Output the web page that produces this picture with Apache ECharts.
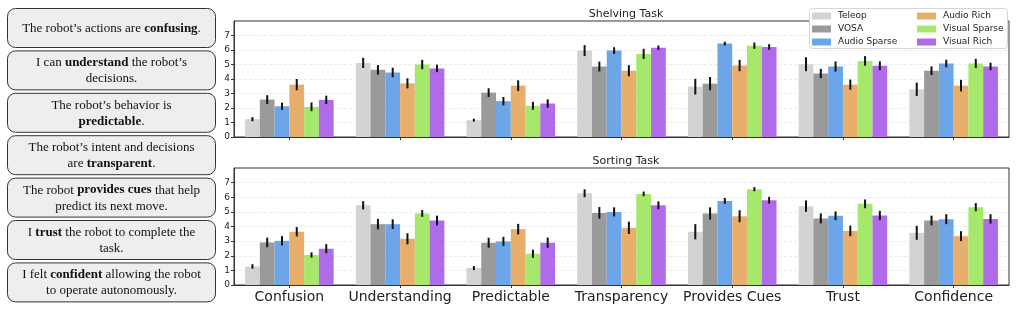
<!DOCTYPE html>
<html>
<head>
<meta charset="utf-8">
<script src="https://cdn.jsdelivr.net/npm/echarts@6/dist/echarts.min.js"></script>
<style>
  html, body { margin: 0; padding: 0; background: #fff; }
  #chart { width: 1017px; height: 312px; }
</style>
</head>
<body>
<div id="chart"></div>
<script>
// categories and conditions
const categories = ['Confusion', 'Understanding', 'Predictable', 'Transparency', 'Provides Cues', 'Trust', 'Confidence'];
const groups = ['Teleop', 'VOSA', 'Audio Sparse', 'Audio Rich', 'Visual Sparse', 'Visual Rich'];
const colors = ['#d3d3d3', '#9a9a9a', '#6ca6e8', '#e8ae6c', '#a5e86c', '#b06ce8'];

// shelving task: mean per condition (rows follow groups)
const shelvingMeans = [
  [1.23, 5.11, 1.16, 5.96, 3.47, 5.02, 3.29],
  [2.58, 4.63, 3.06, 4.86, 3.68, 4.38, 4.57],
  [2.12, 4.45, 2.47, 5.96, 6.44, 4.86, 5.07],
  [3.61, 3.70, 3.54, 4.57, 4.93, 3.61, 3.54],
  [2.08, 5.00, 2.15, 5.73, 6.30, 5.25, 5.07],
  [2.56, 4.73, 2.31, 6.16, 6.21, 4.91, 4.86]
];
const shelvingErrors = [
  [0.14, 0.35, 0.10, 0.38, 0.54, 0.48, 0.46],
  [0.30, 0.33, 0.30, 0.34, 0.46, 0.32, 0.30],
  [0.25, 0.33, 0.29, 0.23, 0.13, 0.35, 0.26],
  [0.39, 0.35, 0.37, 0.38, 0.39, 0.35, 0.40],
  [0.30, 0.32, 0.27, 0.35, 0.22, 0.33, 0.32],
  [0.29, 0.26, 0.29, 0.15, 0.19, 0.31, 0.26]
];

// sorting task
const sortingMeans = [
  [1.27, 5.45, 1.16, 6.27, 3.64, 5.39, 3.57],
  [2.91, 4.16, 2.89, 4.93, 4.89, 4.55, 4.41],
  [3.02, 4.16, 2.98, 5.00, 5.75, 4.73, 4.50],
  [3.64, 3.16, 3.82, 3.91, 4.70, 3.70, 3.34],
  [2.05, 4.89, 2.14, 6.23, 6.55, 5.55, 5.32],
  [2.48, 4.41, 2.89, 5.45, 5.80, 4.75, 4.52]
];
const sortingErrors = [
  [0.15, 0.28, 0.14, 0.27, 0.52, 0.39, 0.48],
  [0.33, 0.36, 0.34, 0.40, 0.42, 0.34, 0.33],
  [0.32, 0.33, 0.31, 0.31, 0.20, 0.30, 0.34],
  [0.32, 0.38, 0.36, 0.42, 0.41, 0.36, 0.34],
  [0.18, 0.23, 0.28, 0.16, 0.14, 0.30, 0.28],
  [0.31, 0.33, 0.35, 0.27, 0.23, 0.32, 0.32]
];

const yTicks = [0, 1, 2, 3, 4, 5, 6, 7];

// questionnaire statements shown on the left ({b|..} = bold)
const statements = [
  'The robot\u2019s actions are {b|confusing}.',
  'I can {b|understand} the robot\u2019s\ndecisions.',
  'The robot\u2019s behavior is\n{b|predictable}.',
  'The robot\u2019s intent and decisions\nare {b|transparent}.',
  'The robot {b|provides cues} that help\npredict its next move.',
  'I {b|trust} the robot to complete the\ntask.',
  'I felt {b|confident} allowing the robot\nto operate autonomously.'
];

const chart = echarts.init(document.getElementById('chart'), null, { renderer: 'canvas' });

const SANS = 'DejaVu Sans';
const SERIF = 'Liberation Serif';

function xAxisFor(gridIndex, showLabels) {
  return {
    type: 'category',
    gridIndex: gridIndex,
    data: categories,
    boundaryGap: true,
    axisLine: { lineStyle: { color: '#333', width: 1 } },
    axisTick: { show: true, alignWithLabel: true, interval: 0, length: 3, lineStyle: { color: '#333' } },
    axisLabel: { show: showLabels, interval: 0, color: '#222', fontSize: 14, fontFamily: SANS, margin: 5 },
    splitLine: { show: false }
  };
}

function yAxisFor(gridIndex) {
  return {
    type: 'value',
    gridIndex: gridIndex,
    min: 0,
    max: 8,
    interval: 1,
    axisLine: { show: true, lineStyle: { color: '#333', width: 1 } },
    axisTick: { show: true, length: 3, lineStyle: { color: '#333' }, customValues: yTicks },
    axisLabel: { color: '#222', fontSize: 9, fontFamily: SANS, margin: 4, customValues: yTicks },
    splitLine: { show: true, lineStyle: { color: '#e6e6e6', type: [3, 2], width: 0.8 } }
  };
}

function errorSeries(gridIdx, j, means, errs) {
  const data = categories.map((c, i) => [i, means[j][i] - errs[j][i], means[j][i] + errs[j][i]]);
  return {
    type: 'custom',
    xAxisIndex: gridIdx,
    yAxisIndex: gridIdx,
    z: 5,
    silent: true,
    data: data,
    renderItem: function (params, api) {
      const band = api.size([1, 0])[0];
      const bw = band * 0.8 / groups.length;
      const x = api.coord([api.value(0), 0])[0] + (j - (groups.length - 1) / 2) * bw;
      const y1 = api.coord([api.value(0), api.value(1)])[1];
      const y2 = api.coord([api.value(0), api.value(2)])[1];
      return {
        type: 'line',
        shape: { x1: x, y1: y1, x2: x, y2: y2 },
        style: { stroke: '#111', lineWidth: 2 }
      };
    }
  };
}

const series = [];
[shelvingMeans, sortingMeans].forEach((means, g) => {
  groups.forEach((name, j) => {
    series.push({
      name: name,
      type: 'bar',
      xAxisIndex: g,
      yAxisIndex: g,
      data: means[j],
      barGap: '0%',
      barCategoryGap: '20%',
      itemStyle: { color: colors[j] },
      emphasis: { disabled: true },
      animation: false
    });
  });
});
[[shelvingMeans, shelvingErrors], [sortingMeans, sortingErrors]].forEach((pair, g) => {
  groups.forEach((name, j) => {
    series.push(errorSeries(g, j, pair[0], pair[1]));
  });
});

// left statement boxes
const graphics = [];
const boxTop = 8, boxStep = 42.4, boxH = 39;
statements.forEach((s, i) => {
  const y = boxTop + i * boxStep;
  graphics.push({
    type: 'rect',
    shape: { x: 7.5, y: y + 0.5, width: 208, height: boxH, r: 8 },
    style: { fill: '#eeeeee', stroke: '#333', lineWidth: 1 }
  });
  graphics.push({
    type: 'text',
    x: 111.5,
    y: y + boxH / 2 + 1,
    style: {
      text: s,
      align: 'center',
      verticalAlign: 'middle',
      fontFamily: SERIF,
      fontSize: 13,
      lineHeight: 16,
      fill: '#111',
      rich: {
        b: { fontFamily: SERIF, fontSize: 13, fontWeight: 'bold', lineHeight: 16, fill: '#111' }
      }
    }
  });
});
// legend frame
graphics.push({
  type: 'rect',
  z: 3,
  shape: { x: 809.5, y: 8.5, width: 198, height: 40, r: 3 },
  style: { fill: '#fff', stroke: '#d6d6d6', lineWidth: 1 }
});

function legendFor(names, left) {
  return {
    data: names,
    orient: 'vertical',
    left: left,
    top: 10,
    padding: 0,
    itemWidth: 19,
    itemHeight: 7,
    itemGap: 1,
    icon: 'rect',
    z: 4,
    textStyle: { fontSize: 9, fontFamily: SANS, color: '#222', lineHeight: 12, padding: [0, 0, 0, 2] }
  };
}

const option = {
  animation: false,
  backgroundColor: '#fff',
  title: [
    { text: 'Shelving Task', left: 621, top: 4, textAlign: 'center',
      textStyle: { fontSize: 11, fontWeight: 'normal', fontFamily: SANS, color: '#222' } },
    { text: 'Sorting Task', left: 621, top: 151, textAlign: 'center',
      textStyle: { fontSize: 11, fontWeight: 'normal', fontFamily: SANS, color: '#222' } }
  ],
  legend: [
    legendFor(groups.slice(0, 3), 812),
    legendFor(groups.slice(3), 917)
  ],
  grid: [
    { left: 234, right: 8, top: 21, height: 116, show: true, borderColor: '#333', borderWidth: 1, backgroundColor: 'transparent' },
    { left: 234, right: 8, top: 168, height: 117, show: true, borderColor: '#333', borderWidth: 1, backgroundColor: 'transparent' }
  ],
  xAxis: [xAxisFor(0, false), xAxisFor(1, true)],
  yAxis: [yAxisFor(0), yAxisFor(1)],
  graphic: graphics,
  series: series
};

chart.setOption(option);
</script>
</body>
</html>
